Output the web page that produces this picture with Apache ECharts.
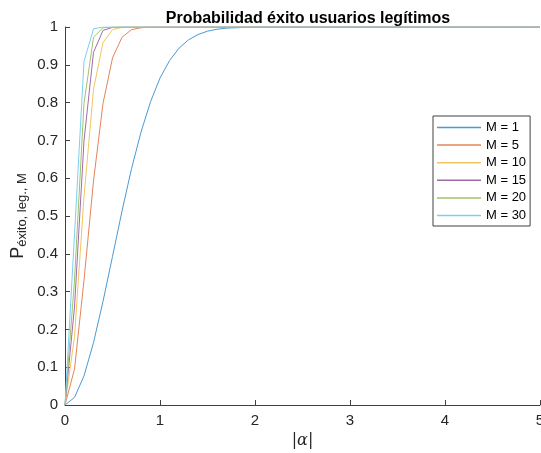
<!DOCTYPE html>
<html>
<head>
<meta charset="utf-8">
<script src="https://cdn.jsdelivr.net/npm/echarts@6/dist/echarts.min.js"></script>
<style>
  html, body { margin: 0; padding: 0; background: #fff; }
  #main { width: 541px; height: 453px; }
</style>
</head>
<body>
<div id="main"></div>
<script>
// |alpha| sampled every 0.1
var alpha = [0, 0.1, 0.2, 0.3, 0.4, 0.5, 0.6, 0.7, 0.8, 0.9,
  1, 1.1, 1.2, 1.3, 1.4, 1.5, 1.6, 1.7, 1.8, 1.9,
  2, 2.1, 2.2, 2.3, 2.4, 2.5, 2.6, 2.7, 2.8, 2.9,
  3, 3.1, 3.2, 3.3, 3.4, 3.5, 3.6, 3.7, 3.8, 3.9,
  4, 4.1, 4.2, 4.3, 4.4, 4.5, 4.6, 4.7, 4.8, 4.9, 5];

var names = ['M = 1', 'M = 5', 'M = 10', 'M = 15', 'M = 20', 'M = 30'];
// matlab default order, a bit washed out like the thin lines in the png
var colors = ['#4a9ad2', '#e3845a', '#f1c65f', '#a26aad', '#9dc36a', '#7ccff2'];

var pM1 = [0, 0.02, 0.077, 0.165, 0.274, 0.393, 0.513, 0.625, 0.722, 0.802,
  0.865, 0.911, 0.944, 0.966, 0.98, 0.989, 0.994, 0.997, 0.998, 0.999,
  1, 1, 1, 1, 1, 1, 1, 1, 1, 1, 1, 1, 1, 1, 1, 1, 1, 1, 1, 1,
  1, 1, 1, 1, 1, 1, 1, 1, 1, 1, 1];
var pM5 = [0, 0.095, 0.33, 0.593, 0.798, 0.918, 0.973, 0.993, 0.998, 1,
  1, 1, 1, 1, 1, 1, 1, 1, 1, 1, 1, 1, 1, 1, 1, 1, 1, 1, 1, 1,
  1, 1, 1, 1, 1, 1, 1, 1, 1, 1, 1, 1, 1, 1, 1, 1, 1, 1, 1, 1, 1];
var pM10 = [0, 0.181, 0.551, 0.835, 0.959, 0.993, 0.999, 1, 1, 1,
  1, 1, 1, 1, 1, 1, 1, 1, 1, 1, 1, 1, 1, 1, 1, 1, 1, 1, 1, 1,
  1, 1, 1, 1, 1, 1, 1, 1, 1, 1, 1, 1, 1, 1, 1, 1, 1, 1, 1, 1, 1];
var pM15 = [0, 0.259, 0.699, 0.933, 0.991, 0.999, 1, 1, 1, 1,
  1, 1, 1, 1, 1, 1, 1, 1, 1, 1, 1, 1, 1, 1, 1, 1, 1, 1, 1, 1,
  1, 1, 1, 1, 1, 1, 1, 1, 1, 1, 1, 1, 1, 1, 1, 1, 1, 1, 1, 1, 1];
var pM20 = [0, 0.33, 0.798, 0.973, 0.998, 1, 1, 1, 1, 1,
  1, 1, 1, 1, 1, 1, 1, 1, 1, 1, 1, 1, 1, 1, 1, 1, 1, 1, 1, 1,
  1, 1, 1, 1, 1, 1, 1, 1, 1, 1, 1, 1, 1, 1, 1, 1, 1, 1, 1, 1, 1];
var pM30 = [0, 0.451, 0.909, 0.995, 1, 1, 1, 1, 1, 1,
  1, 1, 1, 1, 1, 1, 1, 1, 1, 1, 1, 1, 1, 1, 1, 1, 1, 1, 1, 1,
  1, 1, 1, 1, 1, 1, 1, 1, 1, 1, 1, 1, 1, 1, 1, 1, 1, 1, 1, 1, 1];

var curves = [pM1, pM5, pM10, pM15, pM20, pM30];

var chart = echarts.init(document.getElementById('main'));
var font = '"Liberation Sans", Arial, Helvetica, sans-serif';

var series = curves.map(function (vals, k) {
    return {
        name: names[k],
        type: 'line',
        symbol: 'none',
        animation: false,
        lineStyle: { width: 1, color: colors[k] },
        itemStyle: { color: colors[k] },
        data: vals.map(function (v, i) { return [alpha[i], v]; })
    };
});

var option = {
    backgroundColor: '#fff',
    title: {
        text: 'Probabilidad éxito usuarios legítimos',
        left: 303,
        textAlign: 'center',
        top: 6,
        textStyle: { fontFamily: font, fontSize: 16, fontWeight: 'bold', color: '#000' }
    },
    grid: { left: 65, right: 1, top: 27, bottom: 48, outerBoundsMode: 'none' },
    legend: {
        orient: 'vertical',
        left: 433,
        top: 116,
        data: names,
        icon: 'rect',
        itemWidth: 44,
        itemHeight: 1.5,
        itemGap: 4.6,
        padding: [5, 4, 4, 4],
        borderColor: '#404040',
        borderWidth: 1,
        borderRadius: 0,
        backgroundColor: '#fff',
        textStyle: { fontFamily: font, fontSize: 13, lineHeight: 13, color: '#000' }
    },
    xAxis: {
        type: 'value',
        min: 0,
        max: 5,
        interval: 1,
        name: '{n||}{i|α}{n||}',
        nameLocation: 'middle',
        nameGap: 28,
        nameTextStyle: {
            rich: {
                n: { fontFamily: '"DejaVu Serif", serif', fontSize: 16, color: '#262626' },
                i: { fontFamily: '"DejaVu Serif", serif', fontStyle: 'italic', fontSize: 16, color: '#262626' }
            }
        },
        splitLine: { show: false },
        axisLine: { lineStyle: { color: '#404040', width: 1 } },
        axisTick: { inside: true, length: 5, lineStyle: { color: '#404040' } },
        axisLabel: { fontFamily: font, fontSize: 15, color: '#262626', margin: 8 }
    },
    yAxis: {
        type: 'value',
        min: 0,
        max: 1,
        interval: 0.1,
        name: '{p|P}{s|éxito, leg., M}',
        nameLocation: 'middle',
        nameGap: 36,
        nameMoveOverlap: false,
        nameRotate: 90,
        nameTextStyle: {
            rich: {
                p: { fontFamily: font, fontSize: 18, color: '#262626', lineHeight: 20, verticalAlign: 'top' },
                s: { fontFamily: font, fontSize: 13, color: '#262626', lineHeight: 13, padding: [10, 0, 0, 0], verticalAlign: 'bottom' }
            }
        },
        splitLine: { show: false },
        axisLine: { show: true, lineStyle: { color: '#404040', width: 1 } },
        axisTick: { show: true, inside: true, length: 5, lineStyle: { color: '#404040' } },
        axisLabel: { fontFamily: font, fontSize: 15, color: '#262626', margin: 7 }
    },
    series: series
};

chart.setOption(option);
</script>
</body>
</html>
